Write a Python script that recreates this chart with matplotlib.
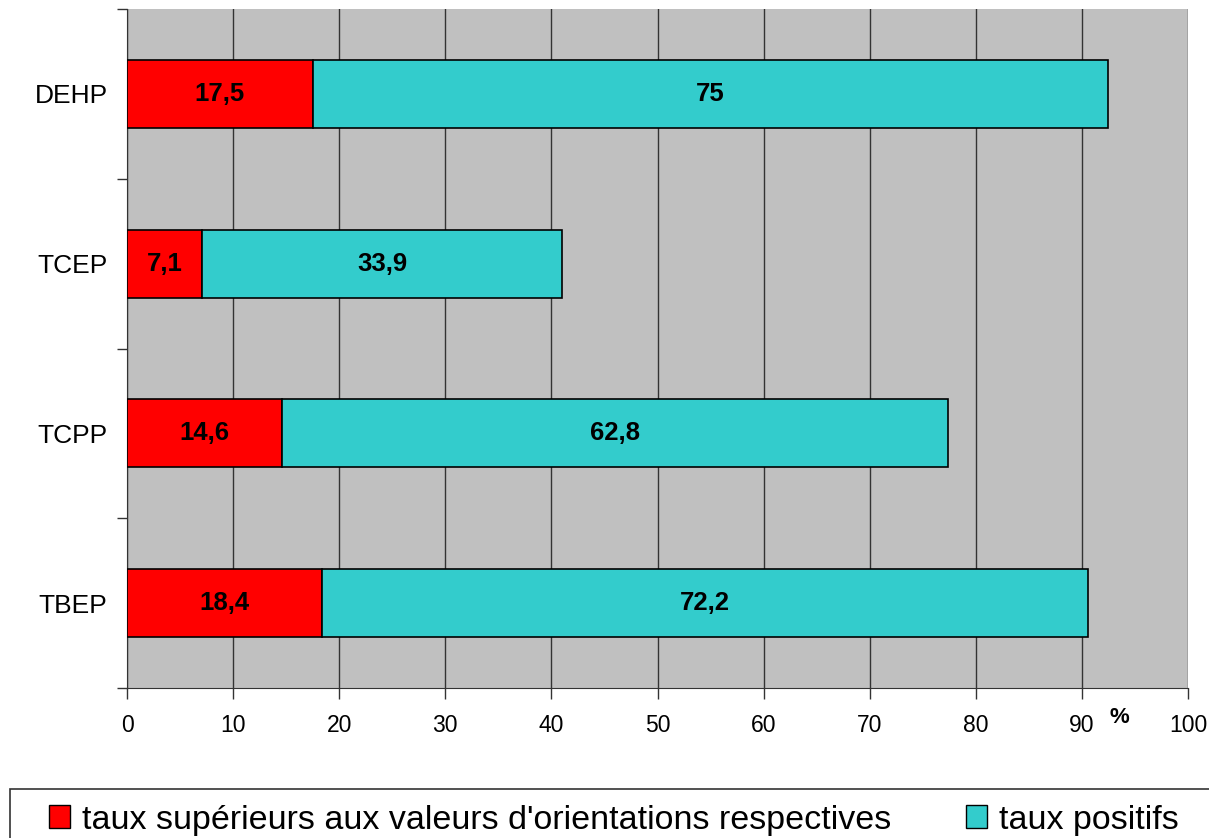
import matplotlib
matplotlib.use("Agg")
import matplotlib.pyplot as plt
from matplotlib.patches import Patch, Rectangle

plt.rcParams['font.family'] = ['Liberation Sans', 'DejaVu Sans']

categories = ["DEHP", "TCEP", "TCPP", "TBEP"]
above_guideline = [17.5, 7.1, 14.6, 18.4]
positive_rate = [75, 33.9, 62.8, 72.2]
series_names = ["taux supérieurs aux valeurs d'orientations respectives", "taux positifs"]
x_ticks = list(range(0, 101, 10))

RED = "#FF0000"
CYAN = "#33CCCC"

W, H = 1209, 838
fig = plt.figure(figsize=(W / 100, H / 100), dpi=100)
ax = fig.add_axes([127 / W, 1 - 688 / H, (1188 - 127) / W, (688 - 9) / H])
ax.set_facecolor("#C0C0C0")

ypos = list(range(len(categories)))[::-1]
ax.barh(ypos, above_guideline, height=0.4, color=RED, edgecolor="black", linewidth=1.2, zorder=3)
ax.barh(ypos, positive_rate, left=above_guideline, height=0.4, color=CYAN,
        edgecolor="black", linewidth=1.2, zorder=3)

def fmt(v):
    return f"{v:g}".replace(".", ",")

for y, a, p in zip(ypos, above_guideline, positive_rate):
    ax.text(a / 2, y, fmt(a), ha="center", va="center", fontsize=18.5, fontweight="bold", zorder=4)
    ax.text(a + p / 2, y, fmt(p), ha="center", va="center", fontsize=18.5, fontweight="bold", zorder=4)

ax.set_xlim(0, 100)
ax.set_ylim(-0.5, len(categories) - 0.5)
ax.set_xticks(x_ticks)
ax.set_xticklabels([str(t) for t in x_ticks], fontsize=16.5)
ax.xaxis.grid(True, color="#333333", linewidth=1.0, zorder=1)
ax.set_axisbelow(True)

ax.set_yticks(ypos)
ax.set_yticklabels(categories, fontsize=19)
ax.tick_params(axis="y", length=0, pad=14)
ax.set_yticks([i - 0.5 for i in range(len(categories) + 1)], minor=True)
ax.tick_params(axis="y", which="minor", length=7, width=1, color="#333333")
ax.tick_params(axis="x", length=8, width=1, color="#333333", pad=11)

for side in ("top", "right"):
    ax.spines[side].set_visible(False)
ax.spines["left"].set_color("#333333")
ax.spines["bottom"].set_color("#333333")

ax.text(93.5, -0.043, "%", ha="center", va="center", fontsize=16, fontweight="bold",
        transform=ax.get_xaxis_transform())

# legend frame running off the right and bottom edges
fig.patches.append(Rectangle((10 / W, -0.05), 1.1, (838 - 789) / H + 0.05,
                             transform=fig.transFigure, facecolor="white",
                             edgecolor="#333333", linewidth=1.2))
handles = [Patch(facecolor=RED, edgecolor="black"), Patch(facecolor=CYAN, edgecolor="black")]
fig.legend(handles, series_names, loc="center left", bbox_to_anchor=(49 / W, 1 - 820 / H),
           ncol=2, frameon=False, fontsize=24.5, handlelength=0.62, handleheight=0.62,
           handletextpad=0.35, columnspacing=2.2, borderaxespad=0, borderpad=0)

fig.savefig("out.png", dpi=100)
